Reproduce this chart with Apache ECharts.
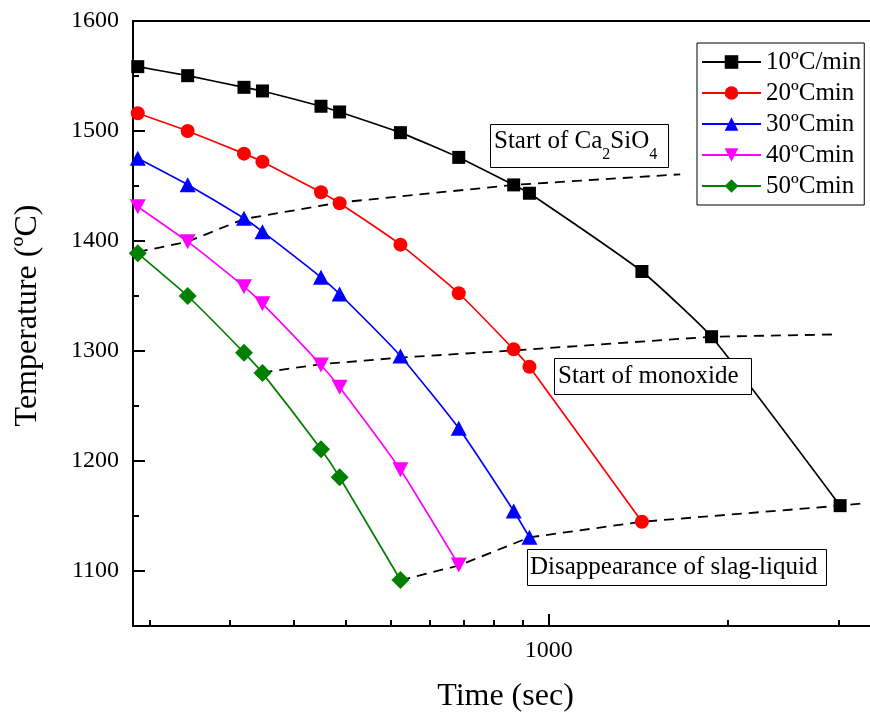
<!DOCTYPE html>
<html><head><meta charset="utf-8">
<script src="https://cdn.jsdelivr.net/npm/echarts@6/dist/echarts.min.js"></script>
<style>html,body{margin:0;padding:0;background:#fff}#c{width:870px;height:720px}</style>
</head><body><div id="c"></div>
<script>
// ---- data ----
const times = [254, 300, 362, 385, 468, 498, 610, 741, 890, 938, 1365, 1722, 2644];
const rate10 = [1558.5, 1550.3, 1539.7, 1536.4, 1522.5, 1517.3, 1498.5, 1476, 1451, 1443.4, 1372.3, 1313, 1159.4];
const rate20 = [1516.1, 1500, 1479.4, 1472.1, 1444.3, 1434.3, 1396.7, 1352.5, 1301.5, 1285.7, 1144.8];
const rate30 = [1475.2, 1451.2, 1420.6, 1408.5, 1367, 1351.8, 1295.5, 1229.7, 1154.5, 1130.6];
const rate40 = [1431.2, 1399.4, 1358.5, 1343, 1287.3, 1267, 1192, 1105.4];
const rate50 = [1388.8, 1350, 1298.5, 1279.9, 1210.6, 1185.2, 1091.8];
const seriesNames = ['10ºC/min', '20ºCmin', '30ºCmin', '40ºCmin', '50ºCmin'];
const ca2sio4Time = [254, 300, 362, 498, 890, 1551];
const ca2sio4Temp = [1390, 1399.4, 1420, 1435, 1451, 1460.6];
const monoxideTime = [385, 468, 610, 890, 1722, 2584];
const monoxideTemp = [1280.5, 1288, 1294, 1300.5, 1313, 1315];
const slagTime = [610, 741, 938, 1365, 2644, 2844];
const slagTemp = [1091.5, 1105, 1130.6, 1144.8, 1159.4, 1161.5];
const xMajorTicks = [1000];
const xMinorTicks = [264, 345, 427, 509, 591, 672, 754, 834, 918, 1816, 2634];
const yMajorTicks = [1100, 1200, 1300, 1400, 1500, 1600];
const yMinorTicks = [1150, 1250, 1350, 1450, 1550];

const FONT = "'Liberation Serif', 'Times New Roman', serif";
const chart = echarts.init(document.getElementById('c'), null, {renderer: 'canvas'});

function pairs(xs, ys) { return ys.map((y, i) => [xs[i], y]); }

const rateSeries = [rate10, rate20, rate30, rate40, rate50];
const colors = ['#000000', '#ff0000', '#0000ff', '#ff00ff', '#008000'];
const symbols = ['rect', 'circle', 'triangle', 'path://M0,0L2,0L1,1.8Z', 'diamond'];
const sizes = [13, 14, [16, 15], [16, 15], [18, 18]];

const series = rateSeries.map((arr, k) => ({
  name: seriesNames[k], type: 'line', xAxisIndex: 0, yAxisIndex: 0,
  data: pairs(times, arr), smooth: 0.15,
  symbol: symbols[k], symbolSize: sizes[k], showAllSymbol: true,
  lineStyle: {color: colors[k], width: 1.7},
  itemStyle: {color: colors[k], opacity: 1},
  z: 3
}));
[[ca2sio4Time, ca2sio4Temp, 'Start of Ca2SiO4'], [monoxideTime, monoxideTemp, 'Start of monoxide'], [slagTime, slagTemp, 'Disappearance of slag-liquid']].forEach(([xs, ys, nm]) => {
  series.push({
    name: nm, type: 'line', xAxisIndex: 0, yAxisIndex: 0, data: pairs(xs, ys),
    symbol: 'none', lineStyle: {color: '#000', width: 1.8, type: [10, 7]}, z: 2, silent: true
  });
});

const axisLineStyle = {color: '#000', width: 2};
const option = {
  animation: false,
  backgroundColor: '#fff',
  grid: {left: 133, width: 745, top: 21, bottom: 94, containLabel: false, outerBoundsMode: 'none'},
  xAxis: [
    {type: 'log', logBase: 10, min: 250, max: 3000, position: 'bottom',
     axisLine: {show: true, onZero: false, lineStyle: axisLineStyle},
     axisTick: {show: true, inside: true, length: 12, customValues: xMajorTicks, lineStyle: {color: '#000', width: 2}},
     axisLabel: {show: true, customValues: xMajorTicks, formatter: v => String(Math.round(v)), fontSize: 24, fontFamily: FONT, color: '#000', margin: 13},
     splitLine: {show: false}, minorTick: {show: false},
     name: 'Time (sec)', nameLocation: 'middle', nameGap: 55,
     nameTextStyle: {fontSize: 32, fontFamily: FONT, color: '#000'}},
    {type: 'log', logBase: 10, min: 250, max: 3000, position: 'bottom',
     axisLine: {show: false, onZero: false},
     axisTick: {show: true, inside: true, length: 6, customValues: xMinorTicks, lineStyle: {color: '#000', width: 2}},
     axisLabel: {show: false}, splitLine: {show: false}},
    {type: 'log', logBase: 10, min: 250, max: 3000, position: 'top',
     axisLine: {show: true, onZero: false, lineStyle: axisLineStyle},
     axisTick: {show: false}, axisLabel: {show: false}, splitLine: {show: false}}
  ],
  yAxis: [
    {type: 'value', min: 1050, max: 1600, position: 'left',
     axisLine: {show: true, onZero: false, lineStyle: axisLineStyle},
     axisTick: {show: true, inside: true, length: 12, customValues: yMajorTicks, lineStyle: {color: '#000', width: 2}},
     axisLabel: {show: true, customValues: yMajorTicks, formatter: v => String(v), fontSize: 24, fontFamily: FONT, color: '#000', margin: 14},
     splitLine: {show: false},
     name: 'Temperature (ºC)', nameLocation: 'middle', nameGap: 89,
     nameTextStyle: {fontSize: 32, fontFamily: FONT, color: '#000', padding: [0, 0, 0, 16]}},
    {type: 'value', min: 1050, max: 1600, position: 'left',
     axisLine: {show: false, onZero: false},
     axisTick: {show: true, inside: true, length: 6, customValues: yMinorTicks, lineStyle: {color: '#000', width: 2}},
     axisLabel: {show: false}, splitLine: {show: false}}
  ],
  legend: {
    orient: 'vertical', left: 697, top: 43, data: seriesNames,
    itemWidth: 59, itemHeight: 17, itemGap: 5, padding: [6, 3, 6, 4],
    borderColor: '#000', borderWidth: 1, backgroundColor: '#fff',
    textStyle: {fontSize: 25, fontFamily: FONT, color: '#000', lineHeight: 26}
  },
  graphic: {elements: [
    {type: 'rect', z: 10, shape: {x: 490.5, y: 124.5, width: 178, height: 43}, style: {fill: '#fff', stroke: '#000', lineWidth: 1}},
    {type: 'text', z: 11, x: 494, y: 129, style: {
      text: '{m|Start of Ca}{s|2}{m|SiO}{s|4}', fill: '#000', align: 'left', verticalAlign: 'top',
      rich: {
        m: {fontSize: 25, fontFamily: FONT, lineHeight: 28, verticalAlign: 'top', fill: '#000'},
        s: {fontSize: 16, fontFamily: FONT, lineHeight: 16, padding: [18, 0, 0, 0], verticalAlign: 'top', fill: '#000'}
      }}},
    {type: 'rect', z: 10, shape: {x: 554.5, y: 358.5, width: 197, height: 36}, style: {fill: '#fff', stroke: '#000', lineWidth: 1}},
    {type: 'text', z: 11, x: 558, y: 376.5, style: {text: 'Start of monoxide', font: '25px ' + FONT, fill: '#000', align: 'left', verticalAlign: 'middle'}},
    {type: 'rect', z: 10, shape: {x: 527.5, y: 549.5, width: 299, height: 36}, style: {fill: '#fff', stroke: '#000', lineWidth: 1}},
    {type: 'text', z: 11, x: 530, y: 567, style: {text: 'Disappearance of slag-liquid', font: '25px ' + FONT, fill: '#000', align: 'left', verticalAlign: 'middle'}}
  ]},
  series: series
};
chart.setOption(option);
</script>
</body></html>
